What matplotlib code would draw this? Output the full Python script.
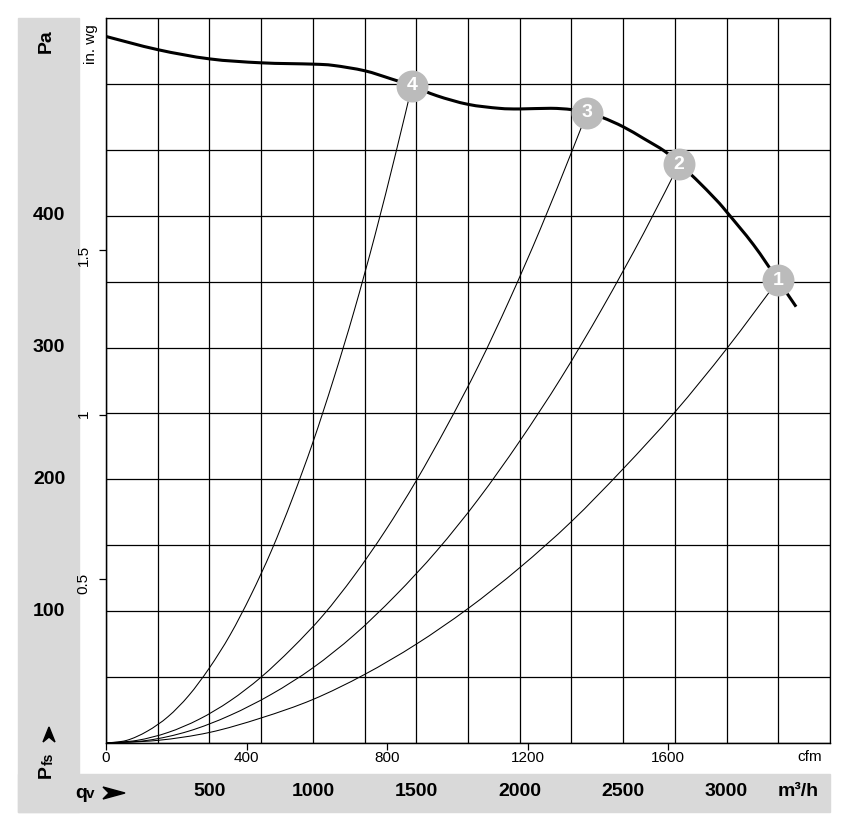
import matplotlib
matplotlib.use('Agg')
import matplotlib.pyplot as plt
import matplotlib.transforms as mtransforms
from matplotlib.patches import Rectangle, Polygon, PathPatch
from matplotlib.path import Path

plt.rcParams['font.family'] = ['Liberation Sans', 'DejaVu Sans']

CFM = 1.699    # m3/h per cfm
INWG = 249.09  # Pa per in. wg

# fan curve, flow in m3/h, static pressure in Pa
fan_q = [0, 250, 500, 750, 1000, 1100, 1250, 1375, 1479, 1600, 1750, 1900, 2000,
         2150, 2250, 2325, 2400, 2500, 2600, 2700, 2770, 2850, 2950, 3000, 3130,
         3249, 3336]
fan_p = [536, 526, 519, 516, 515, 514, 510, 504, 498.5, 491, 484.5, 481.5, 481,
         481.5, 480.5, 478, 474.5, 467.5, 458.5, 449, 439.5, 428, 412, 403, 378,
         351, 331]

# system curves through the operating points
sys1_q = [0, 250, 500, 750, 1000, 1250, 1500, 1750, 2000, 2250, 2500, 2750, 3000, 3249]
sys1_p = [0, 2, 8, 19, 33, 52, 75, 102, 133, 168, 208, 251, 299, 351]
sys2_q = [0, 200, 400, 600, 800, 1000, 1200, 1400, 1600, 1800, 2000, 2200, 2400, 2600, 2770]
sys2_p = [0, 2, 9, 21, 37, 57, 82, 112, 146, 185, 229, 277, 330, 387, 439]
sys3_q = [0, 150, 300, 450, 600, 750, 900, 1050, 1200, 1350, 1500, 1650, 1800, 1950,
          2100, 2250, 2325]
sys3_p = [0, 2, 8, 18, 32, 50, 72, 97, 127, 161, 199, 241, 286, 336, 390, 448, 478]
sys4_q = [0, 100, 200, 300, 400, 500, 600, 700, 800, 900, 1000, 1100, 1200, 1300,
          1400, 1479]
sys4_p = [0, 2, 9, 20, 36, 57, 82, 112, 146, 185, 228, 276, 328, 385, 447, 498.5]

op_labels = ['1', '2', '3', '4']
op_q = [3249, 2770, 2325, 1479]
op_p = [351, 439, 478, 498.5]

cfm_ticks = [0, 400, 800, 1200, 1600]
inwg_ticks = [0.5, 1, 1.5]
pa_labels = [100, 200, 300, 400]
m3h_labels = [500, 1000, 1500, 2000, 2500, 3000]


def smooth_line(ax, xs, ys, **kw):
    # curve through the read points, drawn as cubic Bezier pieces
    pts = list(zip(xs, ys))
    n = len(pts)
    verts = [pts[0]]
    codes = [Path.MOVETO]
    for i in range(n - 1):
        p0 = pts[max(i - 1, 0)]
        p1 = pts[i]
        p2 = pts[i + 1]
        p3 = pts[min(i + 2, n - 1)]
        c1 = (p1[0] + (p2[0] - p0[0]) / 6, p1[1] + (p2[1] - p0[1]) / 6)
        c2 = (p2[0] - (p3[0] - p1[0]) / 6, p2[1] - (p3[1] - p1[1]) / 6)
        verts += [c1, c2, p2]
        codes += [Path.CURVE4] * 3
    ax.add_patch(PathPatch(Path(verts, codes), fill=False, **kw))


W, H = 844, 838
grey = '#d9d9d9'
fig = plt.figure(figsize=(W / 100, H / 100), dpi=100)


def px(x, y):
    return (x / W, 1 - y / H)


fig.patches.append(Rectangle(px(18, 812), (79 - 18) / W, (812 - 18) / H,
                             transform=fig.transFigure, color=grey, zorder=-1))
fig.patches.append(Rectangle(px(18, 812), (830 - 18) / W, (812 - 774) / H,
                             transform=fig.transFigure, color=grey, zorder=-1))

ax = fig.add_axes([106 / W, 1 - 743 / H, 724 / W, 725 / H])
ax.set_xlim(0, 3500)
ax.set_ylim(0, 550)
ax.set_xticks(range(0, 3501, 250))
ax.set_yticks(range(0, 551, 50))
ax.tick_params(length=0, labelbottom=False, labelleft=False)
ax.grid(color='black', lw=0.9)
ax.set_axisbelow(True)
for s in ax.spines.values():
    s.set_linewidth(0.9)

for q, p in [(sys1_q, sys1_p), (sys2_q, sys2_p), (sys3_q, sys3_p), (sys4_q, sys4_p)]:
    smooth_line(ax, q, p, edgecolor='black', lw=0.75, zorder=3)
smooth_line(ax, fan_q, fan_p, edgecolor='black', lw=2.2, zorder=4, capstyle='butt')
ax.plot(op_q, op_p, 'o', ms=23, color='#bbbbbb', mec='none', zorder=5, clip_on=False)
for lab, q, p in zip(op_labels, op_q, op_p):
    ax.text(q, p, lab, color='white', fontsize=14, fontweight='bold',
            ha='center', va='center', zorder=6)

# secondary scales: cfm and in. wg
sx = ax.secondary_xaxis('bottom', functions=(lambda q: q / CFM, lambda c: c * CFM))
sx.set_xticks(cfm_ticks)
sx.tick_params(direction='out', length=5, width=0.9, labelsize=11, pad=1)
sy = ax.secondary_yaxis('left', functions=(lambda p: p / INWG, lambda w: w * INWG))
sy.set_yticks(inwg_ticks, labels=['0.5', '1', '1.5'])
sy.tick_params(direction='out', length=5, width=0.9, labelsize=11, pad=6,
               labelrotation=90)
for s in list(sx.spines.values()) + list(sy.spines.values()):
    s.set_linewidth(0.9)

# Pa labels in the grey band, m3/h labels in the bottom band
ty = mtransforms.blended_transform_factory(fig.transFigure, ax.transData)
for v in pa_labels:
    ax.text(49 / W, v, str(v), transform=ty, fontsize=14, fontweight='bold',
            ha='center', va='center', clip_on=False)
tx = mtransforms.blended_transform_factory(ax.transData, fig.transFigure)
for v in m3h_labels:
    ax.text(v, 1 - 791 / H, str(v), transform=tx, fontsize=14, fontweight='bold',
            ha='center', va='center', clip_on=False)

fig.text(*px(798, 791), 'm³/h', fontsize=14, fontweight='bold', ha='center', va='center')
fig.text(*px(810, 757), 'cfm', fontsize=11, ha='center', va='center')
fig.text(*px(91, 24), 'in. wg', fontsize=11, rotation=90, ha='center', va='top')
fig.text(*px(46, 41), 'Pa', fontsize=14, fontweight='bold', rotation=90,
         ha='center', va='center')

# axis captions with arrow heads
fig.text(*px(46, 772), 'P', fontsize=14, fontweight='bold', rotation=90,
         ha='center', va='center')
fig.text(*px(49, 759), 'fs', fontsize=10, fontweight='bold', rotation=90,
         ha='center', va='center')
fig.text(*px(75, 793), 'q', fontsize=14, fontweight='bold', ha='left', va='center')
fig.text(*px(86, 794), 'v', fontsize=11, fontweight='bold', ha='left', va='center')
arrow_h = [px(125, 793), px(103, 787), px(109, 793), px(103, 799)]
arrow_v = [px(49, 727), px(55, 742), px(49, 737), px(43, 742)]
for a in (arrow_h, arrow_v):
    fig.patches.append(Polygon(a, closed=True, transform=fig.transFigure,
                               color='black', zorder=2))

fig.savefig('out.png', dpi=100, facecolor='white')
